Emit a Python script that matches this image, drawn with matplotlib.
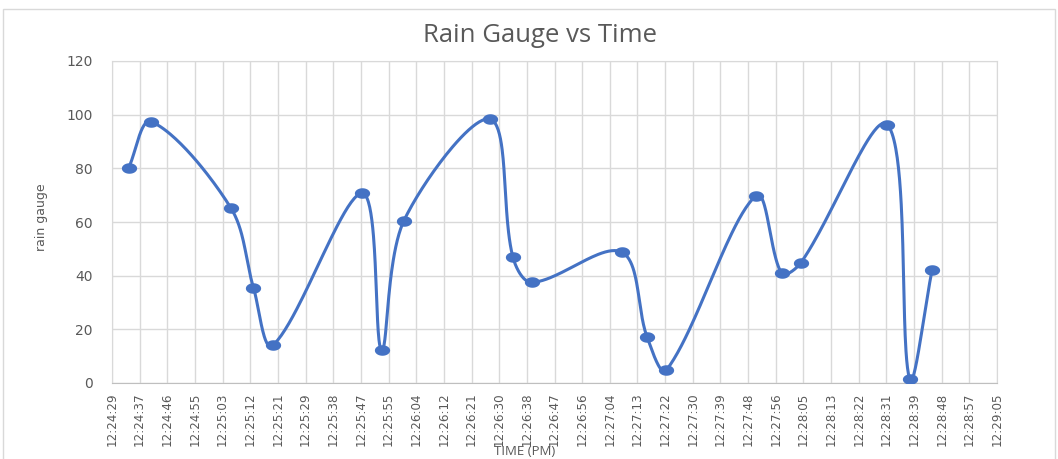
import numpy as np
import matplotlib.pyplot as plt
from matplotlib.patches import Rectangle
from matplotlib.path import Path

# data
times = ['12:24:34', '12:24:41', '12:25:06', '12:25:13', '12:25:19',
         '12:25:47', '12:25:53', '12:26:00', '12:26:27', '12:26:34',
         '12:26:40', '12:27:08', '12:27:16', '12:27:22', '12:27:50',
         '12:27:58', '12:28:04', '12:28:31', '12:28:38', '12:28:45']
rain = [80.2, 97.4, 65.1, 35.5, 14.0,
        70.7, 12.3, 60.5, 98.3, 47.1,
        37.5, 48.8, 17.0, 4.8, 69.8,
        40.9, 44.8, 96.3, 1.4, 42.1]

tick_labels = ['12:24:29', '12:24:37', '12:24:46', '12:24:55', '12:25:03',
               '12:25:12', '12:25:21', '12:25:29', '12:25:38', '12:25:47',
               '12:25:55', '12:26:04', '12:26:12', '12:26:21', '12:26:30',
               '12:26:38', '12:26:47', '12:26:56', '12:27:04', '12:27:13',
               '12:27:22', '12:27:30', '12:27:39', '12:27:48', '12:27:56',
               '12:28:05', '12:28:13', '12:28:22', '12:28:31', '12:28:39',
               '12:28:48', '12:28:57', '12:29:05']
y_ticks = [0, 20, 40, 60, 80, 100, 120]


def to_sec(t):
    h, m, s = map(int, t.split(':'))
    return h * 3600 + m * 60 + s


x = np.array([to_sec(t) for t in times], float)
y = np.array(rain, float)

# excel date axis: 0.5170 day, step 0.0001 day
x_min = 0.5170 * 86400
x_step = 0.0001 * 86400
x_ticks = x_min + x_step * np.arange(len(tick_labels))

blue = '#4472C4'
txt = '#595959'

fig = plt.figure(figsize=(10.58, 4.59), dpi=100)
fig.patches.append(Rectangle((3 / 1058, -0.05), 1052 / 1058, 1.05 - 9 / 459,
                             transform=fig.transFigure, fill=False,
                             edgecolor='#d9d9d9', lw=1))

ax = fig.add_axes([112 / 1058, 76 / 459, 885 / 1058, 322 / 459])
ax.set_xlim(x_min, x_ticks[-1])
ax.set_ylim(0, 120)

# smooth line like excel: bezier, tangents weighted by segment lengths (screen space)
pts = ax.transData.transform(np.column_stack([x, y]))
P = np.vstack([pts[0], pts, pts[-1]])
tt = np.linspace(0, 1, 50)[:, None]
curve = []
for i in range(1, len(P) - 2):
    p0, p1, p2, p3 = P[i - 1], P[i], P[i + 1], P[i + 2]
    d01 = np.hypot(*(p1 - p0))
    d12 = np.hypot(*(p2 - p1))
    d23 = np.hypot(*(p3 - p2))
    f1 = d12 / (d01 + d12) / 3 if d01 + d12 > 0 else 0
    f2 = d12 / (d12 + d23) / 3 if d12 + d23 > 0 else 0
    c1 = p1 + (p2 - p0) * f1
    c2 = p2 - (p3 - p1) * f2
    curve.append((1 - tt) ** 3 * p1 + 3 * (1 - tt) ** 2 * tt * c1
                 + 3 * (1 - tt) * tt ** 2 * c2 + tt ** 3 * p2)
curve = ax.transData.inverted().transform(np.vstack(curve))
ax.plot(curve[:, 0], curve[:, 1], color=blue, lw=2.2, solid_capstyle='round', zorder=3)

theta = np.linspace(0, 2 * np.pi, 40)
ellipse = Path(np.column_stack([1.45 * np.cos(theta), np.sin(theta)]), closed=True)
ax.plot(x, y, linestyle='none', marker=ellipse, ms=11, mew=0, color=blue, zorder=4)

ax.set_xticks(x_ticks)
ax.set_xticklabels(tick_labels, rotation=90, fontsize=8.6, color=txt,
                   family='Liberation Sans Narrow')
ax.set_yticks(y_ticks)
ax.set_yticklabels([str(v) for v in y_ticks], fontsize=10, color=txt)
ax.tick_params(axis='x', length=0, pad=7)
ax.tick_params(axis='y', length=0, pad=14)
ax.grid(True, color='#d9d9d9', lw=1)
ax.set_axisbelow(True)
for s in ['top', 'right', 'left']:
    ax.spines[s].set_color('#d9d9d9')
ax.spines['bottom'].set_color('#bfbfbf')

fig.text(540 / 1058, 1 - 42 / 459, 'Rain Gauge vs Time', ha='center', va='baseline',
         fontsize=18.5, color=txt, family='Open Sans')
fig.text(42 / 1058, 1 - 217 / 459, 'rain gauge', rotation=90, ha='center', va='center',
         fontsize=9, color=txt, family='Liberation Sans Narrow')
fig.text(525 / 1058, 1 / 459, 'TIME (PM)', ha='center', va='bottom',
         fontsize=9.5, color=txt, family='Open Sans')

fig.savefig('out.png', dpi=100)
